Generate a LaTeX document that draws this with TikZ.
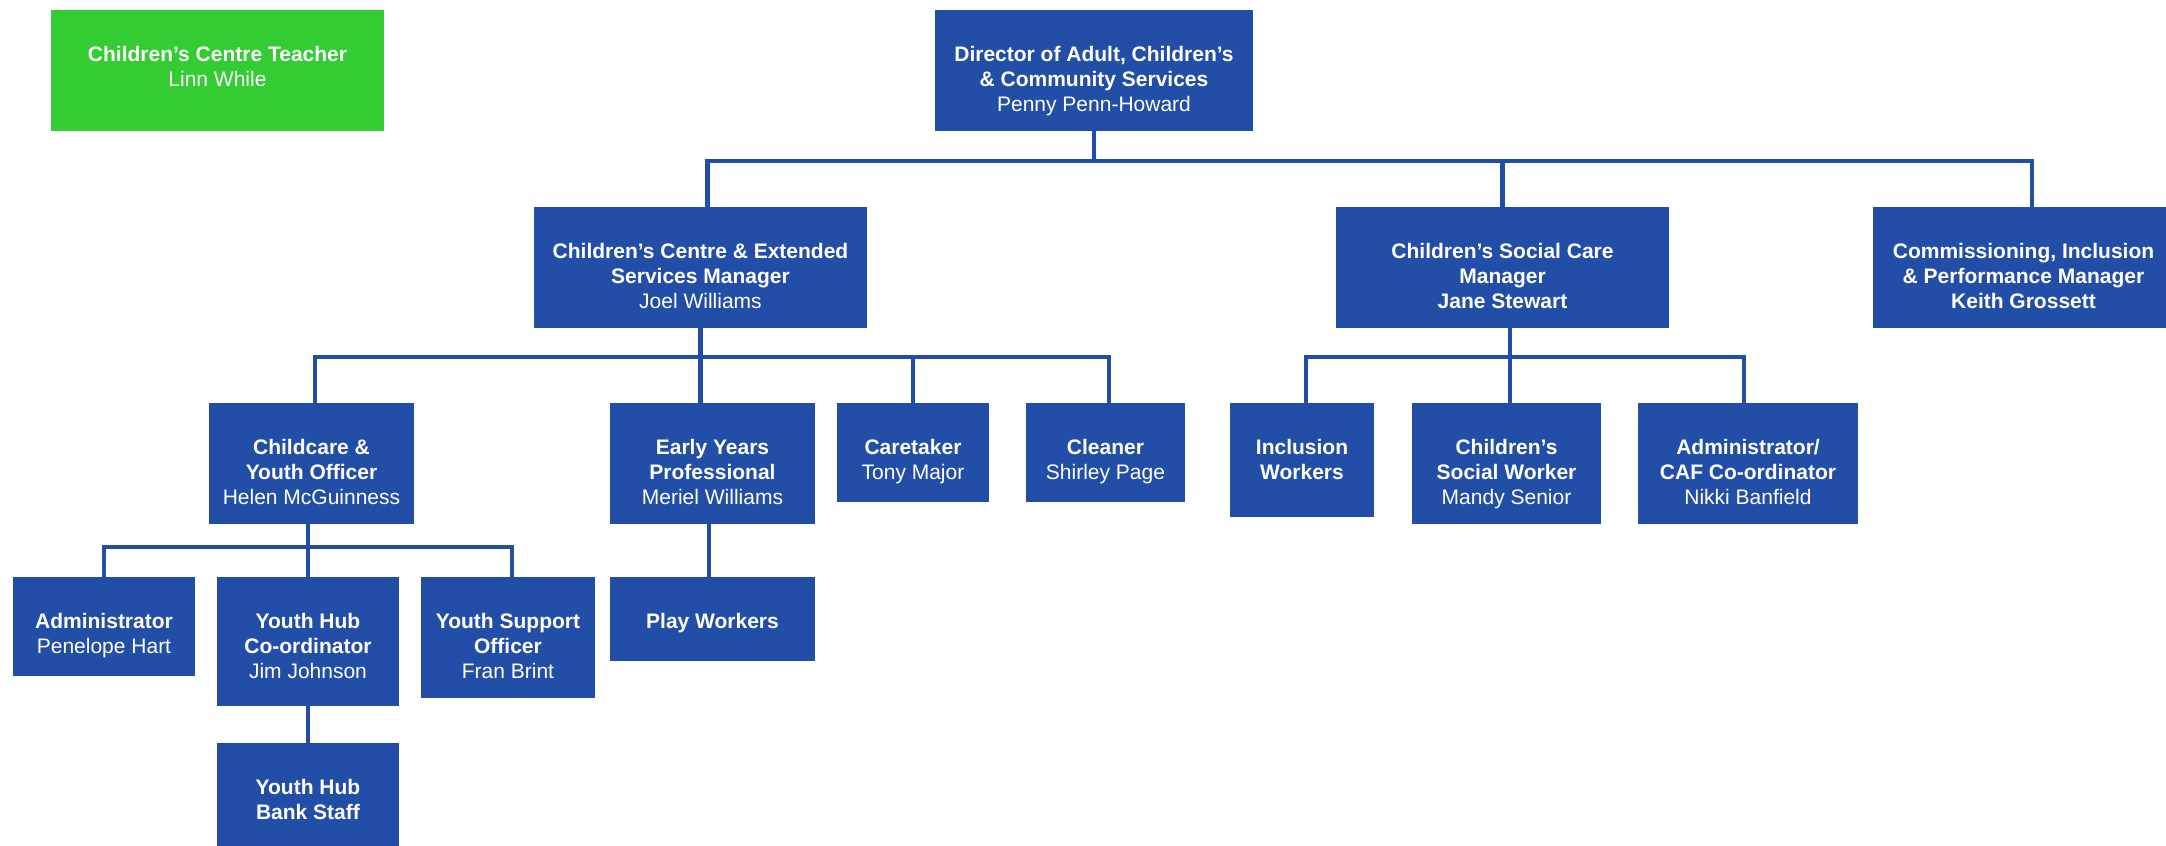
\documentclass[tikz,border=0pt]{standalone}
\usepackage{fontspec}
\setmainfont{Liberation Sans}
\definecolor{orgblue}{RGB}{35,78,168}
\definecolor{orggreen}{RGB}{51,204,51}
\tikzset{
  bluebox/.style={fill=orgblue, draw=none, inner sep=0pt, rectangle},
  greenbox/.style={fill=orggreen, draw=none, inner sep=0pt, rectangle},
  txt/.style={text=white, align=center, inner sep=0pt, anchor=north,
              font=\fontsize{21}{25}\selectfont},
  conn/.style={draw=orgblue, line width=4.5pt}
}
\newcommand\obox[6][bluebox]{%
  \node[#1, minimum width={#5-#3}, minimum height={#6-#4}] (#2) at ({(#3+#5)/2},{(#4+#6)/2}) {};}
\begin{document}
\begin{tikzpicture}[x=1pt,y=-1pt]
\useasboundingbox (0,0) rectangle (2166,846);
% boxes
\obox[greenbox]{teach}{51}{10}{384}{131}
\obox{dir}{935}{10}{1253}{131}
\obox{cc}{534}{207}{867}{328}
\obox{csc}{1336}{207}{1669}{328}
\obox{com}{1873}{207}{2166}{328}
\obox{cco}{209}{403}{414}{524}
\obox{ey}{610}{403}{815}{524}
\obox{care}{837}{403}{989}{502}
\obox{cln}{1026}{403}{1185}{502}
\obox{inc}{1230}{403}{1374}{517}
\obox{csw}{1412}{403}{1601}{524}
\obox{caf}{1638}{403}{1858}{524}
\obox{adm}{13}{577}{195}{676}
\obox{yhc}{217}{577}{399}{706}
\obox{yso}{421}{577}{595}{698}
\obox{play}{610}{577}{815}{661}
\obox{bank}{217}{743}{399}{846}
% texts
\node[txt] (teach-t) at ([yshift=-33.5pt]teach.north) {\strut\textbf{Children’s Centre Teacher}\\Linn While};
\node[txt] (dir-t) at ([yshift=-33.5pt]dir.north) {\strut\textbf{Director of Adult, Children’s}\\\textbf{\& Community Services}\\Penny Penn-Howard};
\node[txt] (cc-t) at ([yshift=-33.5pt]cc.north) {\strut\textbf{Children’s Centre \& Extended}\\\textbf{Services Manager}\\Joel Williams};
\node[txt] (csc-t) at ([yshift=-33.5pt]csc.north) {\strut\textbf{Children's Social Care}\\\textbf{Manager}\\\textbf{Jane Stewart}};
\node[txt] (com-t) at ([yshift=-33.5pt,xshift=4pt]com.north) {\strut\textbf{Commissioning, Inclusion}\\\textbf{\& Performance Manager}\\\textbf{Keith Grossett}};
\node[txt] (cco-t) at ([yshift=-33.5pt]cco.north) {\strut\textbf{Childcare \&}\\\textbf{Youth Officer}\\Helen McGuinness};
\node[txt] (ey-t) at ([yshift=-33.5pt]ey.north) {\strut\textbf{Early Years}\\\textbf{Professional}\\Meriel Williams};
\node[txt] (care-t) at ([yshift=-33.5pt]care.north) {\strut\textbf{Caretaker}\\Tony Major};
\node[txt] (cln-t) at ([yshift=-33.5pt]cln.north) {\strut\textbf{Cleaner}\\Shirley Page};
\node[txt] (inc-t) at ([yshift=-33.5pt]inc.north) {\strut\textbf{Inclusion}\\\textbf{Workers}};
\node[txt] (csw-t) at ([yshift=-33.5pt]csw.north) {\strut\textbf{Children’s}\\\textbf{Social Worker}\\Mandy Senior};
\node[txt] (caf-t) at ([yshift=-33.5pt]caf.north) {\strut\textbf{Administrator/}\\\textbf{CAF Co-ordinator}\\Nikki Banfield};
\node[txt] (adm-t) at ([yshift=-33.5pt]adm.north) {\strut\textbf{Administrator}\\Penelope Hart};
\node[txt] (yhc-t) at ([yshift=-33.5pt]yhc.north) {\strut\textbf{Youth Hub}\\\textbf{Co-ordinator}\\Jim Johnson};
\node[txt] (yso-t) at ([yshift=-33.5pt]yso.north) {\strut\textbf{Youth Support}\\\textbf{Officer}\\Fran Brint};
\node[txt] (play-t) at ([yshift=-33.5pt]play.north) {\strut\textbf{Play Workers}};
\node[txt] (bank-t) at ([yshift=-33.5pt]bank.north) {\strut\textbf{Youth Hub}\\\textbf{Bank Staff}};
% bus coordinates
\coordinate (bus0) at (1094,161);
\coordinate (bus1) at (0,357);
\coordinate (bus2) at (0,547);
% level 1
\draw[conn] (dir.south) -- (dir.south |- bus0);
\draw[conn] ([xshift=7pt]cc.north) -- ([xshift=7pt]cc.north |- bus0) -- ([xshift=12.5pt]com.north |- bus0) -- ([xshift=12.5pt]com.north);
\draw[conn] (csc.north) -- (csc.north |- bus0);
% children's centre
\draw[conn] (cc.south) -- (cc.south |- ey.north);
\draw[conn] ([xshift=3.5pt]cco.north) -- ([xshift=3.5pt]cco.north |- bus1) -- ([xshift=3.5pt]cln.north |- bus1) -- ([xshift=3.5pt]cln.north);
\draw[conn] (care.north) -- (care.north |- bus1);
% childcare
\draw[conn] (yhc.north |- cco.south) -- (yhc.north);
\draw[conn] (adm.north) -- (adm.north |- bus2) -- ([xshift=4pt]yso.north |- bus2) -- ([xshift=4pt]yso.north);
\draw[conn] (yhc.south) -- (bank.north);
% early years
\draw[conn] ([xshift=-3.5pt]ey.south) -- ([xshift=-3.5pt]play.north);
% social care
\draw[conn] ([xshift=3.5pt]csw.north |- csc.south) -- ([xshift=3.5pt]csw.north);
\draw[conn] ([xshift=4pt]inc.north) -- ([xshift=4pt]inc.north |- bus1) -- ([xshift=-4pt]caf.north |- bus1) -- ([xshift=-4pt]caf.north);
\end{tikzpicture}
\end{document}
